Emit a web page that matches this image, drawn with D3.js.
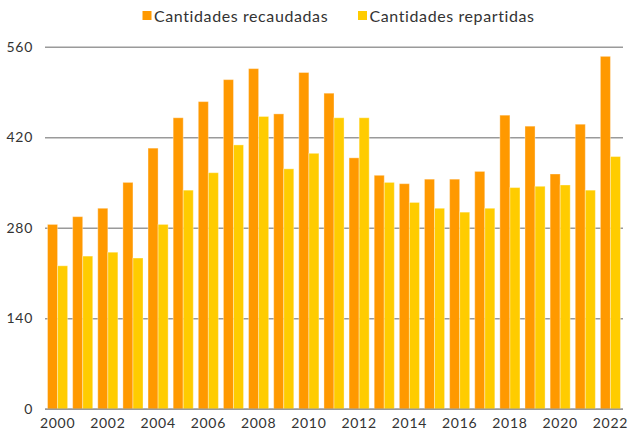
<!DOCTYPE html>
<html>
<head>
<meta charset="utf-8">
<script src="https://cdn.jsdelivr.net/npm/d3@7"></script>
<style>
  html, body { margin: 0; padding: 0; background: #fff; }
  svg { display: block; font-family: Lato, "Open Sans", sans-serif; }
</style>
</head>
<body>
<svg id="chart" width="628" height="433"></svg>
<script>
const years = ["2000","2001","2002","2003","2004","2005","2006","2007","2008","2009","2010","2011","2012","2013","2014","2015","2016","2017","2018","2019","2020","2021","2022"];
const recaudadas = [286, 298, 311, 351, 404, 451, 476, 510, 527, 457, 521, 489, 389, 362, 349, 356, 356, 368, 455, 438, 364, 441, 546];
const repartidas = [222, 237, 243, 234, 286, 339, 366, 409, 453, 372, 396, 451, 451, 351, 320, 311, 305, 311, 343, 345, 347, 339, 391];
const seriesNames = ["Cantidades recaudadas", "Cantidades repartidas"];
const seriesColors = ["#FF9900", "#FFCC00"];
const yTicks = [0, 140, 280, 420, 560];
const xTickLabels = ["2000","2002","2004","2006","2008","2010","2012","2014","2016","2018","2020","2022"];

const svg = d3.select("#chart");
const mLeft = 45, mRight = 623, mTop = 47.3, mBottom = 409.3;

const x = d3.scaleBand().domain(years).range([mLeft, mRight]).paddingInner(0.2).paddingOuter(0.1);
const xs = d3.scaleBand().domain([0, 1]).range([0, x.bandwidth()]);
const y = d3.scaleLinear().domain([0, 560]).range([mBottom, mTop]);

// gridlines
svg.append("g").selectAll("line").data(yTicks).join("line")
  .attr("x1", mLeft).attr("x2", mRight)
  .attr("y1", d => y(d)).attr("y2", d => y(d))
  .attr("stroke", "#9a9a9a").attr("stroke-width", 1.4);

// y labels
svg.append("g").selectAll("text").data(yTicks).join("text")
  .attr("x", 33).attr("y", d => y(d)).attr("dy", "0.33em")
  .attr("text-anchor", "end").attr("font-size", 14).attr("letter-spacing", 0.7).attr("fill", "#333")
  .text(d => d);

// bars
const data = years.map((yr, i) => ({ yr, vals: [recaudadas[i], repartidas[i]] }));
const groups = svg.append("g").selectAll("g").data(data).join("g")
  .attr("transform", d => `translate(${x(d.yr)},0)`);
groups.selectAll("rect").data(d => d.vals.map((v, k) => ({ v, k }))).join("rect")
  .attr("x", d => xs(d.k)).attr("width", xs.bandwidth())
  .attr("y", d => y(d.v)).attr("height", d => y(0) - y(d.v))
  .attr("fill", d => seriesColors[d.k])
  .attr("stroke", "rgba(255,255,255,0.35)").attr("stroke-width", 1);

// baseline
svg.append("line").attr("x1", mLeft).attr("x2", mRight)
  .attr("y1", y(0)).attr("y2", y(0))
  .attr("stroke", "#9a9a9a").attr("stroke-width", 1.4);

// x labels
svg.append("g").selectAll("text").data(xTickLabels).join("text")
  .attr("x", d => x(d) + x.bandwidth() / 2).attr("y", 428)
  .attr("text-anchor", "middle").attr("font-size", 14).attr("letter-spacing", 0.7).attr("fill", "#333")
  .text(d => d);

// legend
const legendX = [142.5, 358];
const lg = svg.append("g").selectAll("g").data(seriesNames).join("g")
  .attr("transform", (d, i) => `translate(${legendX[i]},0)`);
lg.append("rect").attr("x", 0).attr("y", 11).attr("width", 9).attr("height", 9)
  .attr("fill", (d, i) => seriesColors[i]);
lg.append("text").attr("x", 11.5).attr("y", 21.5)
  .attr("font-size", 16).attr("letter-spacing", 0.6).attr("fill", "#333").text(d => d);
</script>
</body>
</html>
